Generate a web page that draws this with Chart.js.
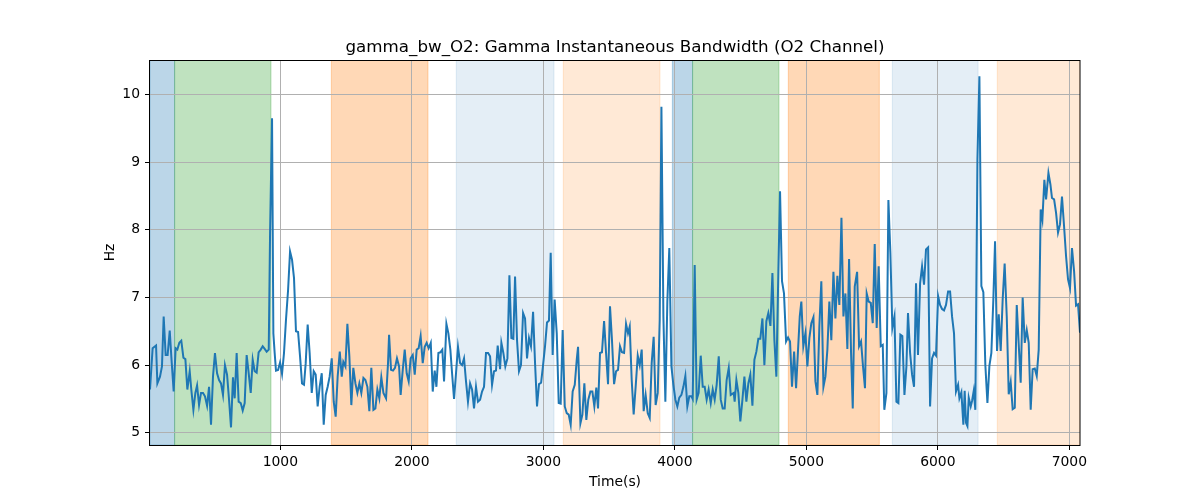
<!DOCTYPE html>
<html>
<head>
<meta charset="utf-8">
<script src="https://cdn.jsdelivr.net/npm/chart.js@4.4.0/dist/chart.umd.min.js"></script>
<style>
  body { margin: 0; background: #fff; }
  canvas { display: block; }
</style>
</head>
<body>
<canvas id="chart" width="1200" height="500"></canvas>
<script>
// time stamps (s) and bandwidth (Hz)
const times = [
  9,29,55,65,85,100,113,128,143,159,171,189,204,217,232,247,263,278,293,311,323,339,354,367,382,397,412,427,443,458,473,488,503,519,534,549,564,579,595,610,625,640,653,668,683,699,714,729,744,759,775,790,805,820,835,851,866,881,896,
  912,922,937,947,957,967,983,998,1013,1028,1043,1059,1074,1089,1104,1119,1135,1150,1165,1180,1193,1208,1223,1239,1254,1269,1284,1299,1315,1330,1345,1360,1375,1391,1406,1421,1436,1452,1467,1479,1495,1510,1525,1540,1555,1571,1586,1601,1616,1632,1647,1662,1677,1692,1708,1723,1738,1753,1768,1784,
  1804,1819,1827,1842,1857,1872,1887,1903,1915,1931,1946,1961,1976,1991,2007,2022,2037,2052,2067,2083,2098,2113,2128,2144,2159,2174,2187,2202,2217,2232,2245,2263,2278,2293,2306,2321,2336,2351,2367,2382,2397,2412,2427,2443,2458,2473,2488,2503,2519,2534,2549,2564,2580,2595,2610,2625,2640,2653,
  2671,2681,2696,2711,2727,2742,2757,2772,2785,2800,2815,2830,2846,2861,2876,2891,2906,2922,2937,2952,2967,2983,2998,3013,3028,3043,3056,3071,3086,3102,3117,3132,3147,3163,3178,3193,3208,3223,3239,3254,3264,3282,3297,3312,3327,3342,3358,3373,3388,3403,3416,3431,3446,3462,3477,3492,3507,3522,3538,
  3553,3568,3583,3598,3614,3629,3644,3657,3672,3687,3702,3718,3733,3748,3763,3778,3794,3809,3824,3839,3854,3870,3885,3898,3913,3928,3943,3958,3974,3989,4004,4019,4034,4050,4065,4080,4095,4110,4126,4136,4151,4166,4181,4197,4212,4227,4242,4257,4273,4288,4303,4318,4334,4349,4364,4379,4394,4410,4425,
  4448,4455,4468,4483,4498,4514,4529,4544,4559,4574,4590,4605,4620,4635,4650,4666,4681,4696,4711,4727,4742,4757,4772,4787,4800,4815,4830,4846,4861,4876,4891,4907,4922,4937,4950,4962,4977,4993,5008,5023,5038,5054,5069,5084,5099,5114,5130,5145,5160,5175,5190,5206,5221,5236,5251,5267,5282,5297,5312,
  5325,5340,5353,5368,5386,5401,5416,5431,5446,5459,5474,5490,5505,5520,5535,5550,5566,5581,5593,5609,5624,5639,5654,5670,5685,5700,5715,5730,5746,5761,5773,5789,5804,5819,5834,5849,5865,5880,5895,5910,5926,5941,5956,5971,5986,6002,6017,6032,6047,6062,6078,6093,6108,6123,6138,6154,6164,6179,6194,
  6204,6214,6225,6235,6250,6260,6273,6285,6301,6316,6331,6346,6361,6377,6392,6407,6422,6435,6450,6463,6478,6493,6508,6524,6539,6554,6569,6585,6600,6615,6630,6645,6661,6676,6691,6706,6721,6737,6752,6767,6782,6795,6810,6823,6841,6856,6868,6884,6899,6914,6929,6944,6960,6975,6990,7005,7020,7036,7051,7066,7081
];
const bandwidth = [
  5.64,6.25,6.29,5.73,5.83,5.98,6.72,6.15,6.15,6.51,6.13,5.61,6.25,6.23,6.33,6.36,6.11,6.09,5.64,5.91,5.64,5.34,5.59,5.70,5.41,5.59,5.59,5.54,5.40,5.68,5.12,5.83,6.18,5.88,5.78,5.73,5.56,6.00,5.86,5.49,5.08,5.82,5.51,6.18,5.46,5.44,5.33,5.44,6.15,5.89,5.59,6.08,5.91,5.89,6.19,6.23,6.28,6.24,6.20,
  6.23,7.95,9.65,6.47,6.18,5.92,5.93,6.04,5.87,6.18,6.67,7.11,7.68,7.56,7.29,6.50,6.49,6.13,5.73,5.71,6.03,6.60,6.18,5.59,5.91,5.86,5.39,5.68,5.88,5.12,5.56,5.68,5.83,6.10,5.46,5.24,5.83,6.20,5.83,6.05,5.98,6.61,6.13,5.41,5.96,5.73,5.59,5.73,5.59,5.81,5.78,5.68,5.32,5.96,5.34,5.36,5.64,5.51,5.82,5.59,
  5.51,6.03,6.45,5.93,5.92,5.96,6.10,5.98,5.56,5.93,6.23,5.88,5.76,6.10,6.15,5.86,6.23,6.25,6.43,6.03,6.27,6.33,6.25,6.33,5.61,5.92,5.68,6.18,6.19,6.23,5.76,6.61,6.47,6.23,5.88,5.50,5.88,6.27,6.03,6.00,6.10,5.76,5.46,5.73,5.64,5.36,5.68,5.46,5.49,5.61,5.68,6.18,6.18,6.13,5.71,5.91,5.92,6.29,
  5.94,6.33,6.18,5.98,6.10,7.33,6.40,6.39,7.31,6.37,5.91,6.00,6.77,6.69,6.10,6.40,6.28,6.79,6.03,5.39,5.72,5.74,6.00,6.28,6.63,6.66,7.66,6.15,6.97,6.47,5.44,5.43,6.52,5.39,5.29,5.27,5.12,5.61,5.71,6.08,6.27,5.14,5.27,5.73,5.19,5.49,5.61,5.61,5.39,5.67,5.36,6.18,6.19,6.65,6.18,5.72,6.87,6.37,5.72,
  5.91,5.93,6.28,6.19,6.18,6.61,6.47,6.57,5.78,5.27,5.68,6.14,6.00,6.23,5.32,5.56,5.29,5.22,6.03,6.42,5.41,5.59,6.67,9.82,6.72,5.46,6.94,7.73,5.98,5.71,5.49,5.39,5.52,5.56,5.68,5.84,5.39,5.54,5.54,5.50,7.48,5.49,5.59,6.14,5.68,5.68,5.49,5.64,5.44,5.64,5.49,5.71,6.13,5.49,5.36,5.36,5.78,5.96,5.56,
  5.59,5.46,5.78,5.59,5.17,5.49,5.83,5.46,5.73,5.86,5.40,6.08,6.20,6.39,6.39,6.69,6.00,6.65,6.77,6.58,7.36,6.37,5.83,7.36,8.57,7.24,7.06,6.35,6.41,6.35,5.68,6.20,5.66,6.23,6.72,6.94,6.28,6.47,5.98,6.40,6.62,6.71,5.76,5.56,6.57,7.24,5.68,5.83,6.23,6.94,6.37,7.38,6.69,7.32,6.89,8.18,6.72,7.06,6.24,
  7.57,6.18,5.36,7.16,7.38,6.28,6.35,5.98,5.66,7.06,6.94,6.92,6.62,7.79,6.55,7.46,6.28,6.30,5.34,5.59,8.44,7.66,6.55,6.72,5.46,5.44,6.45,6.43,5.56,5.98,6.77,6.18,5.86,5.68,7.21,6.15,7.21,7.46,7.19,7.71,7.74,5.39,6.10,6.18,6.14,7.02,6.89,6.83,6.81,6.89,7.09,7.09,6.72,6.47,5.61,5.71,5.51,5.60,5.12,
  5.62,5.15,5.10,5.52,5.39,5.47,5.62,5.34,9.04,10.27,7.17,7.08,6.01,5.44,5.99,6.18,6.97,7.83,6.21,6.75,6.21,6.97,7.50,6.72,5.57,5.75,5.35,5.37,6.89,6.31,5.74,7.00,6.33,6.52,6.33,5.34,5.94,5.95,5.84,6.23,8.30,8.15,8.74,8.45,8.84,8.67,8.47,8.45,8.25,7.96,8.08,8.49,8.05,7.61,7.27,7.14,7.73,7.39,6.88,6.90,6.48
];

// shaded stages (s)
const spanStart = [9, 196, 1388, 2338, 3152, 3981, 4135, 4863, 5654, 6452];
const spanEnd   = [196, 929, 2123, 3081, 3887, 4135, 4792, 5555, 6306, 7081];
const spanKind  = ['a', 'b', 'c', 'd', 'e', 'a', 'b', 'c', 'd', 'e'];

const xTicks = [1000, 2000, 3000, 4000, 5000, 6000, 7000];
const yTicks = [5, 6, 7, 8, 9, 10];

const spanColors = {
  a: 'rgba(31,119,180,0.3)',
  b: 'rgba(44,160,44,0.3)',
  c: 'rgba(255,127,14,0.3)',
  d: 'rgba(31,119,180,0.12)',
  e: 'rgba(255,127,14,0.17)'
};

const FONT = '"DejaVu Sans", sans-serif';

const spansPlugin = {
  id: 'spans',
  beforeDraw(chart) {
    const { ctx, chartArea: a, scales: { x } } = chart;
    ctx.save();
    ctx.fillStyle = '#fff';
    ctx.fillRect(0, 0, chart.width, chart.height);
    ctx.beginPath();
    ctx.rect(a.left, a.top, a.right - a.left, a.bottom - a.top);
    ctx.clip();
    spanStart.forEach((s, i) => {
      const x0 = x.getPixelForValue(s);
      const x1 = x.getPixelForValue(spanEnd[i]);
      ctx.fillStyle = spanColors[spanKind[i]];
      ctx.fillRect(x0, a.top, x1 - x0, a.bottom - a.top);
      ctx.strokeStyle = spanColors[spanKind[i]];
      ctx.lineWidth = 1;
      ctx.strokeRect(x0, a.top, x1 - x0, a.bottom - a.top);
    });
    ctx.restore();
  },
  afterDraw(chart) {
    const { ctx, chartArea: a } = chart;
    ctx.save();
    // frame
    ctx.strokeStyle = '#000';
    ctx.lineWidth = 1;
    ctx.strokeRect(Math.round(a.left) - 0.5, Math.round(a.top) + 0.5,
      Math.round(a.right - a.left) + 0.5, Math.round(a.bottom - a.top));
    ctx.fillStyle = '#000';
    ctx.textAlign = 'center';
    ctx.textBaseline = 'alphabetic';
    ctx.font = '16.7px ' + FONT;
    ctx.fillText('gamma_bw_O2: Gamma Instantaneous Bandwidth (O2 Channel)', (a.left + a.right) / 2, 52);
    ctx.font = '13.9px ' + FONT;
    ctx.fillText('Time(s)', (a.left + a.right) / 2, 486);
    ctx.translate(110, (a.top + a.bottom) / 2);
    ctx.rotate(-Math.PI / 2);
    ctx.textBaseline = 'middle';
    ctx.fillText('Hz', 0, 0);
    ctx.restore();
  }
};

const gridOpts = {
  color: '#b0b0b0',
  lineWidth: 1,
  tickColor: '#000',
  tickLength: 5,
  drawTicks: true
};

new Chart(document.getElementById('chart'), {
  type: 'line',
  data: {
    datasets: [{
      data: times.map((t, i) => ({ x: t, y: bandwidth[i] })),
      borderColor: '#1f77b4',
      borderWidth: 2,
      pointRadius: 0,
      fill: false,
      tension: 0
    }]
  },
  options: {
    responsive: false,
    animation: false,
    devicePixelRatio: 1,
    layout: { padding: { top: 60, right: 120, bottom: 0, left: 0 } },
    plugins: {
      legend: { display: false },
      tooltip: { enabled: false },
      title: { display: false }
    },
    scales: {
      x: {
        type: 'linear',
        min: 9,
        max: 7081,
        afterBuildTicks: s => { s.ticks = xTicks.map(v => ({ value: v })); },
        afterFit: s => { s.height = 55; },
        grid: gridOpts,
        border: { display: false },
        ticks: {
          color: '#000', padding: 4, maxRotation: 0,
          font: { family: FONT, size: 13.9 },
          callback: v => String(v)
        }
      },
      y: {
        min: 4.82,
        max: 10.51,
        afterBuildTicks: s => { s.ticks = yTicks.map(v => ({ value: v })); },
        afterFit: s => { s.width = 150; },
        grid: gridOpts,
        border: { display: false },
        ticks: {
          color: '#000', padding: 5,
          font: { family: FONT, size: 13.9 },
          callback: v => String(v)
        }
      }
    }
  },
  plugins: [spansPlugin]
});
</script>
</body>
</html>
